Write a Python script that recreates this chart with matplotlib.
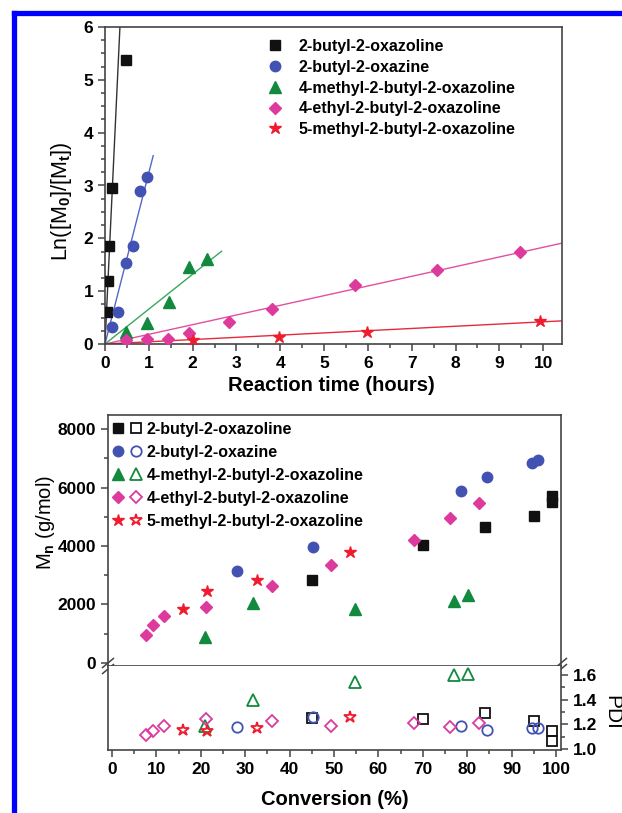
import matplotlib
matplotlib.use("Agg")
import matplotlib.pyplot as plt
from matplotlib.lines import Line2D
from matplotlib.legend_handler import HandlerTuple
from matplotlib.ticker import MultipleLocator

plt.rcParams['font.family'] = 'Liberation Sans'
plt.rcParams['font.weight'] = 'bold'
plt.rcParams['mathtext.fontset'] = 'custom'
plt.rcParams['mathtext.rm'] = 'Liberation Sans'
plt.rcParams['mathtext.default'] = 'rm'

# ============================================================
# DATA
# ============================================================
names = ["2-butyl-2-oxazoline", "2-butyl-2-oxazine", "4-methyl-2-butyl-2-oxazoline",
         "4-ethyl-2-butyl-2-oxazoline", "5-methyl-2-butyl-2-oxazoline"]
colors = ['#111111', '#4252b2', '#128a3e', '#dd3a9e', '#ee1c2e']
line_colors = ['#333333', '#5565c8', '#3aa85a', '#e2509f', '#e62a3a']
markers = ['s', 'o', '^', 'D', '*']

# kinetics: reaction time (h) vs ln([M0]/[Mt])
kin_t = [
    [0.05, 0.07, 0.09, 0.17, 0.49],
    [0.17, 0.29, 0.48, 0.63, 0.80, 0.95],
    [0.48, 0.96, 1.45, 1.91, 2.32],
    [0.48, 0.96, 1.44, 1.91, 2.84, 3.80, 5.71, 7.57, 9.47],
    [2.0, 3.98, 5.97, 9.92],
]
kin_ln = [
    [0.60, 1.20, 1.86, 2.96, 5.37],
    [0.32, 0.60, 1.53, 1.86, 2.90, 3.16],
    [0.23, 0.39, 0.80, 1.46, 1.60],
    [0.08, 0.09, 0.10, 0.20, 0.42, 0.66, 1.12, 1.41, 1.74],
    [0.08, 0.14, 0.22, 0.44],
]
# linear fits through the origin: slope and end of the drawn line
fit_slope = [17.6, 3.24, 0.66, 0.183, 0.042]
fit_tmax = [0.5, 1.10, 2.66, 10.5, 10.5]

# conversion (%) vs Mn and PDI
conv = [
    [45.0, 70.0, 84.0, 95.1, 99.0, 99.0],
    [28.2, 45.3, 78.5, 84.5, 94.5, 95.9],
    [20.9, 31.8, 54.8, 76.9, 80.1],
    [7.6, 9.2, 11.6, 21.1, 36.0, 49.3, 68.1, 76.1, 82.7],
    [15.9, 21.5, 32.6, 53.6],
]
mn = [
    [2840, 4030, 4640, 5040, 5700, 5520],
    [3160, 3980, 5870, 6360, 6840, 6940],
    [880, 2040, 1840, 2110, 2310],
    [950, 1310, 1610, 1900, 2630, 3360, 4200, 4950, 5460],
    [1850, 2460, 2840, 3800],
]
pdi = [
    [1.25, 1.24, 1.29, 1.23, 1.15, 1.065],
    [1.18, 1.26, 1.185, 1.155, 1.17, 1.17],
    [1.19, 1.40, 1.54, 1.60, 1.61],
    [1.11, 1.15, 1.19, 1.24, 1.23, 1.19, 1.21, 1.175, 1.21],
    [1.155, 1.15, 1.17, 1.26],
]

msizes = [7, 7.5, 8, 6.5, 9]

W, H = 622, 813
fig = plt.figure(figsize=(W / 100, H / 100), dpi=100)


def px_axes(left, top, right, bottom):
    return fig.add_axes([left / W, 1 - bottom / H, (right - left) / W, (bottom - top) / H])


def style_axis(ax):
    for s in ax.spines.values():
        s.set_color('#444444')
        s.set_linewidth(1.2)
    ax.tick_params(which='both', direction='out', color='#444444', labelsize=12.5, width=1.1)
    ax.tick_params(which='major', length=5)
    ax.tick_params(which='minor', length=3)


# ============================================================
# TOP: kinetics
# ============================================================
ax1 = px_axes(105, 27, 562, 344)
style_axis(ax1)
handles = []
for i in range(len(names)):
    ax1.plot([0, fit_tmax[i]], [0, fit_slope[i] * fit_tmax[i]], color=line_colors[i], lw=1.0, zorder=2)
    h, = ax1.plot(kin_t[i], kin_ln[i], ls='none', marker=markers[i], color=colors[i],
                  ms=msizes[i], mec=colors[i], zorder=3, label=names[i])
    handles.append(h)
ax1.set_xlim(0, 10.43)
ax1.set_ylim(0, 6)
ax1.xaxis.set_major_locator(MultipleLocator(1))
ax1.xaxis.set_minor_locator(MultipleLocator(0.5))
ax1.yaxis.set_major_locator(MultipleLocator(1))
ax1.yaxis.set_minor_locator(MultipleLocator(0.25))
ax1.set_xlabel("Reaction time (hours)", fontsize=14.5, fontweight='bold', va='center')
ax1.xaxis.set_label_coords(0.495, -0.13)
ax1.set_ylabel("Ln([M$_0$]/[M$_t$])", fontsize=15.5, fontweight='normal', va='center')
ax1.yaxis.set_label_coords(-0.096, 0.45)
ax1.legend(handles=handles, loc='upper left', bbox_to_anchor=(0.354, 0.962), frameon=False,
           fontsize=11.5, handlelength=1.0, handletextpad=1.0, labelspacing=0.36,
           borderpad=0, borderaxespad=0)

# ============================================================
# BOTTOM: Mn (upper) and PDI (lower), broken axis
# ============================================================
ax2 = px_axes(108, 415, 561, 666)
ax3 = px_axes(108, 666, 561, 750)
style_axis(ax2)
style_axis(ax3)

leg_handles = []
for i in range(len(names)):
    f, = ax2.plot(conv[i], mn[i], ls='none', marker=markers[i], color=colors[i],
                  ms=msizes[i], mec=colors[i], zorder=3)
    o, = ax3.plot(conv[i], pdi[i], ls='none', marker=markers[i], mfc='none', mec=colors[i],
                  mew=1.3, ms=msizes[i], zorder=3)
    leg_handles.append((f, o))

for ax in (ax2, ax3):
    ax.set_xlim(-0.9, 101.1)
    ax.xaxis.set_major_locator(MultipleLocator(10))
    ax.xaxis.set_minor_locator(MultipleLocator(5))

ax2.set_ylim(-103, 8479)
ax2.yaxis.set_major_locator(MultipleLocator(2000))
ax2.yaxis.set_minor_locator(MultipleLocator(1000))
ax2.tick_params(axis='x', which='both', bottom=False, labelbottom=False)
ax2.set_ylabel("M$_n$ (g/mol)", fontsize=14.5, fontweight='normal', va='center')
ax2.yaxis.set_label_coords(-0.138, 0.57)

ax3.set_ylim(0.992, 1.673)
ax3.spines['top'].set_visible(False)
ax3.yaxis.tick_right()
ax3.yaxis.set_major_locator(MultipleLocator(0.2))
ax3.yaxis.set_minor_locator(MultipleLocator(0.1))
ax3.yaxis.set_label_position('right')
ax3.set_ylabel("PDI", fontsize=15, fontweight='normal', rotation=-90, va='center')
ax3.yaxis.set_label_coords(1.113, 0.45)
ax3.set_xlabel("Conversion (%)", fontsize=14.5, fontweight='bold', va='center')
ax3.xaxis.set_label_coords(0.501, -0.595)

# break marks on both spines
for xb in (0, 1):
    for dy in (-0.012, 0.012):
        ax2.plot([xb - 0.012, xb + 0.012], [dy - 0.018, dy + 0.018], transform=ax2.transAxes,
                 color='#444444', lw=1.1, clip_on=False)

ax2.legend(handles=leg_handles, labels=names, loc='upper left', bbox_to_anchor=(0.0, 0.985),
           handler_map={tuple: HandlerTuple(ndivide=None, pad=0.25)}, frameon=False,
           fontsize=11.5, handlelength=2.0, handletextpad=0.2, labelspacing=0.5,
           borderpad=0.2, borderaxespad=0)

# blue frame at the top and left edges of the page
fig.add_artist(Line2D([13.5 / W, 1.0], [1 - 13.5 / H, 1 - 13.5 / H], color='#0000ff', lw=3.8,
                      solid_capstyle='projecting'))
fig.add_artist(Line2D([13.5 / W, 13.5 / W], [0, 1 - 13.5 / H], color='#0000ff', lw=3.8,
                      solid_capstyle='projecting'))

fig.savefig("out.png", dpi=100)
